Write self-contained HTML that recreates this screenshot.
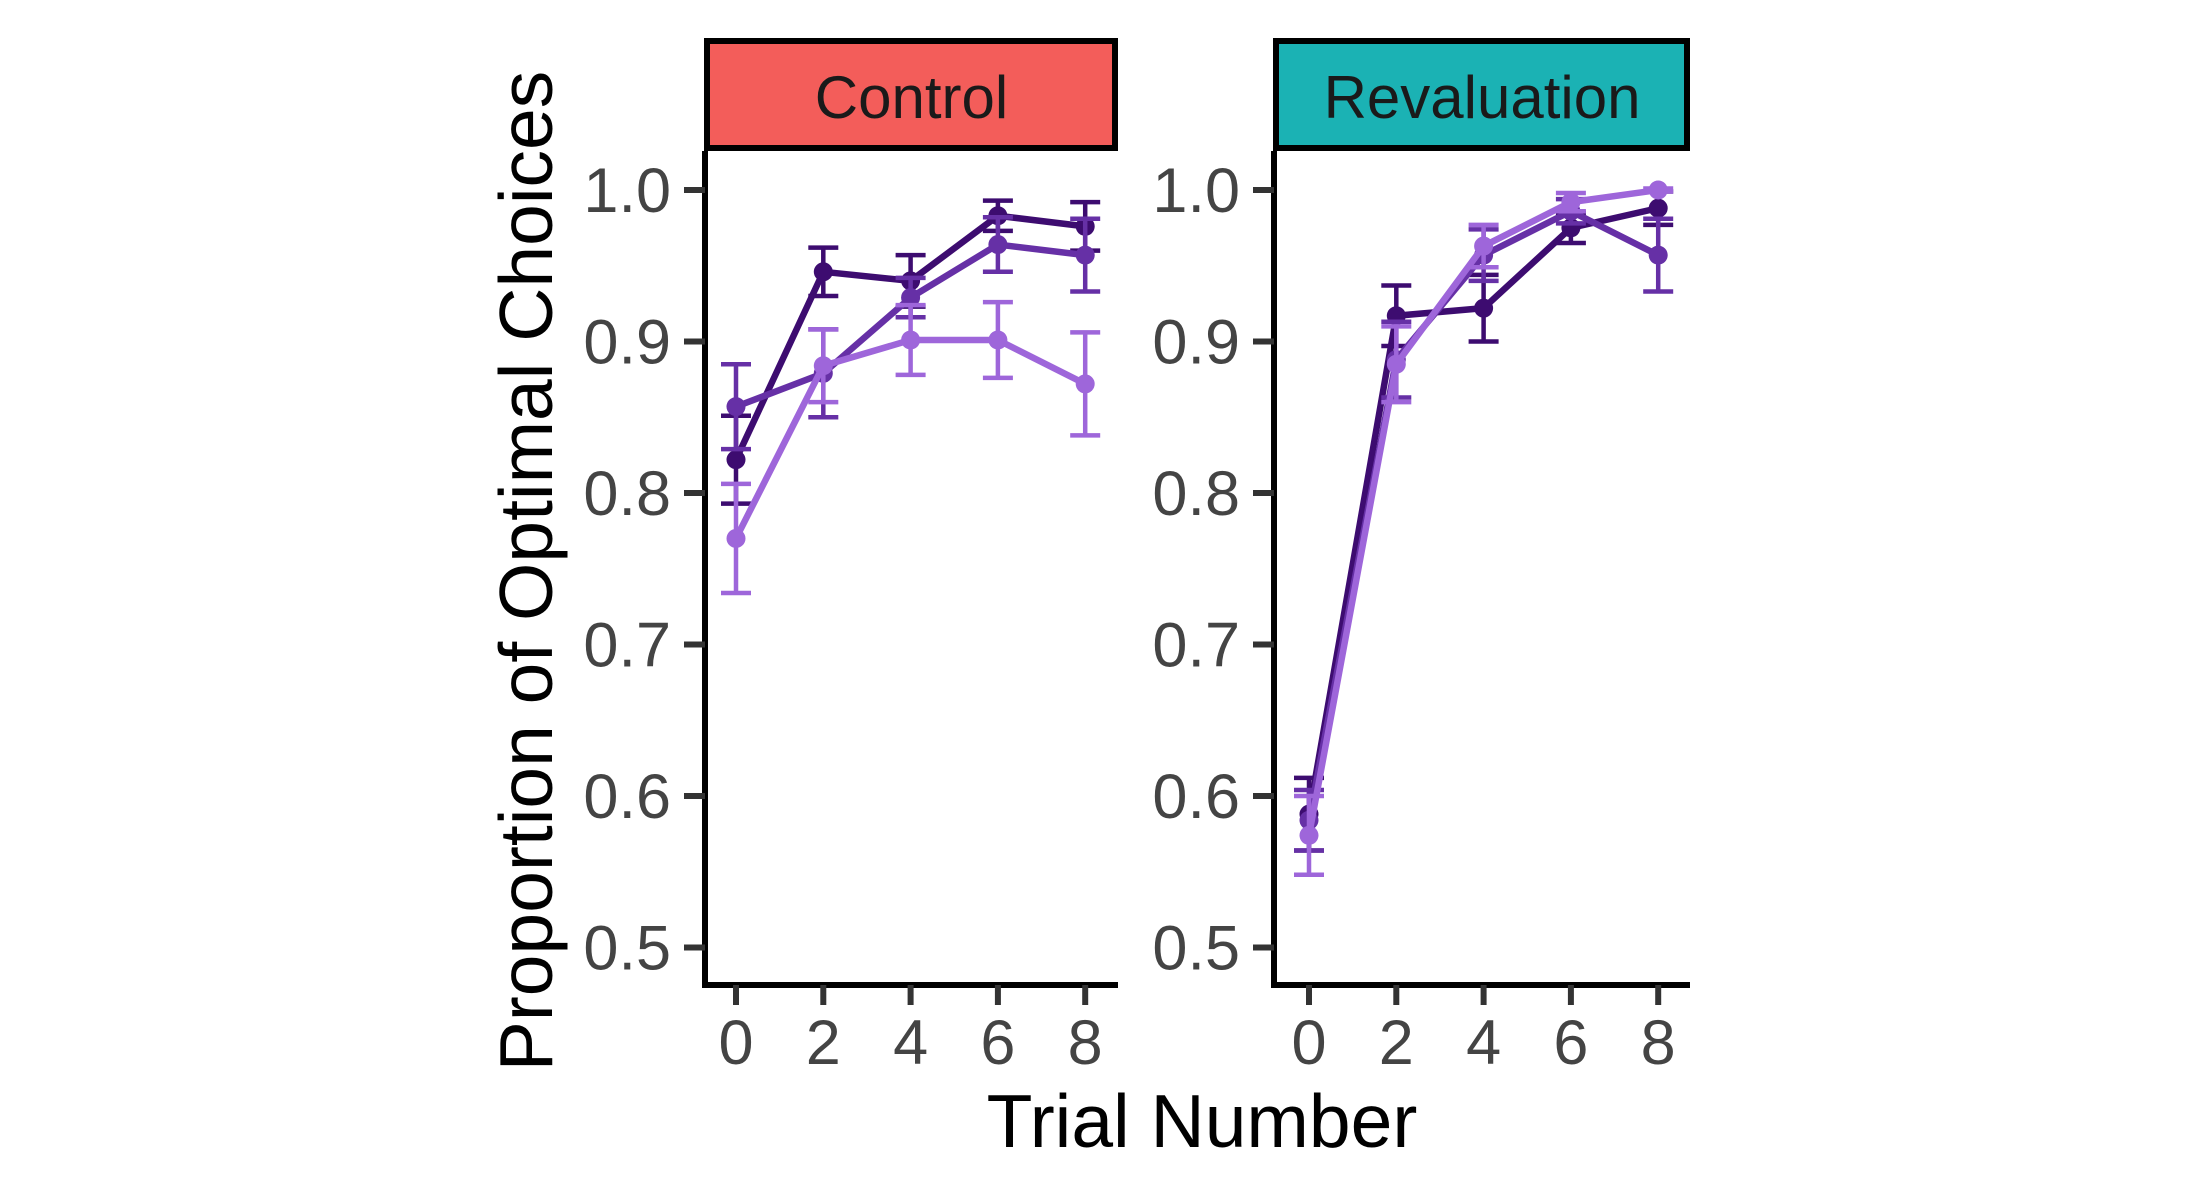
<!DOCTYPE html>
<html><head><meta charset="utf-8"><style>
html,body{margin:0;padding:0;background:#fff;}
svg{display:block;font-family:"Liberation Sans",Arial,sans-serif;}
</style></head><body>
<svg id="chart" width="2187" height="1200" viewBox="0 0 2187 1200" xmlns="http://www.w3.org/2000/svg">
<rect width="2187" height="1200" fill="#fff"/>
</svg>
<script>
const trials = [0, 2, 4, 6, 8];
const yTicks = [0.5, 0.6, 0.7, 0.8, 0.9, 1.0];
const yTickLabels = ["0.5", "0.6", "0.7", "0.8", "0.9", "1.0"];
const xTickLabels = ["0", "2", "4", "6", "8"];
const panels = ["Control", "Revaluation"];
const seriesNames = ["dark", "mid", "light"];
const seriesColors = ["#3d0c70", "#6630a6", "#9e66da"];
// Control panel
const controlDark = [0.822, 0.946, 0.940, 0.983, 0.976];
const controlDarkErr = [0.029, 0.016, 0.017, 0.010, 0.016];
const controlMid = [0.857, 0.879, 0.929, 0.964, 0.957];
const controlMidErr = [0.028, 0.029, 0.013, 0.018, 0.024];
const controlLight = [0.770, 0.884, 0.901, 0.901, 0.872];
const controlLightErr = [0.036, 0.024, 0.023, 0.025, 0.034];
// Revaluation panel
const revalDark = [0.588, 0.917, 0.922, 0.975, 0.988];
const revalDarkErr = [0.024, 0.020, 0.022, 0.010, 0.011];
const revalMid = [0.584, 0.888, 0.957, 0.986, 0.957];
const revalMidErr = [0.020, 0.025, 0.017, 0.008, 0.024];
const revalLight = [0.574, 0.885, 0.963, 0.992, 1.000];
const revalLightErr = [0.026, 0.025, 0.014, 0.006, 0.001];

const NS = "http://www.w3.org/2000/svg";
const svg = document.getElementById("chart");
function mk(tag, attrs, parent) {
  const e = document.createElementNS(NS, tag);
  for (const k in attrs) e.setAttribute(k, attrs[k]);
  (parent || svg).appendChild(e);
  return e;
}
function yScale(v) { return 190 + (1 - v) * 1515; }
const panelLeft = [705, 1274];
const panelRight = [1118, 1690];
const x0s = [736, 1309];
function xScale(p, t) { return x0s[p] + t * 43.65; }
const stripFill = ["#f35d5a", "#1bb2b4"];
const panelData = [
  [[controlDark, controlDarkErr], [controlMid, controlMidErr], [controlLight, controlLightErr]],
  [[revalDark, revalDarkErr], [revalMid, revalMidErr], [revalLight, revalLightErr]]
];

for (let p = 0; p < 2; p++) {
  const g = mk("g", {});
  
  
  const L = panelLeft[p], R = panelRight[p];
  const strip = mk("rect", {x: L + 2, y: 41, width: R - L - 5, height: 107, fill: stripFill[p], stroke: "#000", "stroke-width": 6}, g);
  
  
  const st = mk("text", {x: (L + R) / 2, y: 118, "text-anchor": "middle", "font-size": 60, fill: "#1a1a1a"}, g);
  st.textContent = panels[p];
  
  
  const ya = mk("line", {x1: L, y1: 151, x2: L, y2: 988, stroke: "#000", "stroke-width": 6}, g);
  
  
  const xa = mk("line", {x1: L - 3, y1: 985, x2: R, y2: 985, stroke: "#000", "stroke-width": 6}, g);
  
  
  for (let i = 0; i < yTicks.length; i++) {
    const y = yScale(yTicks[i]);
    const tk = mk("line", {x1: L - 21, y1: y, x2: L, y2: y, stroke: "#333", "stroke-width": 6}, g);
    
    
    const tl = mk("text", {x: L - 34, y: y + 22, "text-anchor": "end", "font-size": 63, fill: "#444"}, g);
    tl.textContent = yTickLabels[i];
    
    
  }
  for (let i = 0; i < trials.length; i++) {
    const x = xScale(p, trials[i]);
    const tk = mk("line", {x1: x, y1: 985, x2: x, y2: 1005, stroke: "#333", "stroke-width": 6}, g);
    
    
    const tl = mk("text", {x: x, y: 1064, "text-anchor": "middle", "font-size": 63, fill: "#444"}, g);
    tl.textContent = xTickLabels[i];
    
    
  }
  for (let s = 0; s < 3; s++) {
    const vals = panelData[p][s][0], errs = panelData[p][s][1];
    const col = seriesColors[s];
    const sg = mk("g", {}, g);
    
    
    const pts = vals.map((v, i) => xScale(p, trials[i]) + "," + yScale(v)).join(" ");
    const ln = mk("polyline", {points: pts, fill: "none", stroke: col, "stroke-width": 6.5, "stroke-linejoin": "round"}, sg);
    
    
    for (let i = 0; i < vals.length; i++) {
      const x = xScale(p, trials[i]);
      const yh = yScale(vals[i] + errs[i]), yl = yScale(vals[i] - errs[i]);
      const eb = mk("path", {d: `M${x-15},${yh}H${x+15}M${x},${yh}V${yl}M${x-15},${yl}H${x+15}`, stroke: col, "stroke-width": 4.5, fill: "none"}, sg);
      
      
      const c = mk("circle", {cx: x, cy: yScale(vals[i]), r: 9.5, fill: col}, sg);
      
      
    }
  }
}
const yt = mk("text", {x: 0, y: 0, transform: "translate(552,571) rotate(-90)", "text-anchor": "middle", "font-size": 75, fill: "#000"});
yt.textContent = "Proportion of Optimal Choices";


const xt = mk("text", {x: 1202, y: 1147, "text-anchor": "middle", "font-size": 75, fill: "#000"});
xt.textContent = "Trial Number";


</script>
</body></html>
